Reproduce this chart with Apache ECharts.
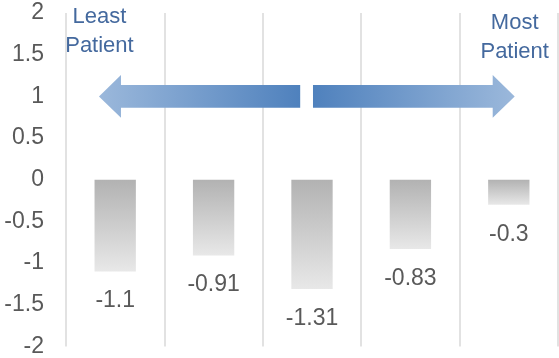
<!DOCTYPE html>
<html>
<head>
<meta charset="utf-8">
<script src="https://cdn.jsdelivr.net/npm/echarts@6/dist/echarts.min.js"></script>
<style>
  html, body { margin: 0; padding: 0; background: #fff; }
  #chart { width: 559px; height: 358px; }
</style>
</head>
<body>
<div id="chart"></div>
<script>
// Patience scores per group, left (least) to right (most)
const categories = ['A', 'B', 'C', 'D', 'E'];
const scores = [-1.1, -0.91, -1.31, -0.83, -0.3];

// Value-axis range and step
const yMin = -2;
const yMax = 2;
const yStep = 0.5;

// Direction arrows, in band units along the chart width (0..5) at value y
const arrows = [
  { from: 2.38, to: 0.335, y: 1 },   // pointing left
  { from: 2.51, to: 4.56, y: 1 }     // pointing right
];

// End captions
const captions = [
  { text: 'Least\nPatient', x: 0.34, y: 1.78 },
  { text: 'Most\nPatient', x: 4.56, y: 1.71 }
];

const font = 'Liberation Sans';
const chart = echarts.init(document.getElementById('chart'), null, { renderer: 'canvas' });

function arrowItem(params, api) {
  const a = arrows[params.dataIndex];
  const start = api.coord([a.from, a.y]);
  const tip = api.coord([a.to, a.y]);
  const unit = api.size([0, 1])[1];
  const halfShaft = unit * 0.137;
  const halfHead = unit * 0.255;
  const dir = tip[0] > start[0] ? 1 : -1;
  const headLen = 22;
  const baseX = tip[0] - dir * headLen;
  const cy = tip[1];
  const points = [
    [start[0], cy - halfShaft],
    [baseX, cy - halfShaft],
    [baseX, cy - halfHead],
    [tip[0], cy],
    [baseX, cy + halfHead],
    [baseX, cy + halfShaft],
    [start[0], cy + halfShaft]
  ];
  const dark = '#4f81bd';
  const light = '#9bb8db';
  return {
    type: 'polygon',
    shape: { points: points },
    style: {
      fill: new echarts.graphic.LinearGradient(0, 0, 1, 0, [
        { offset: 0, color: dir > 0 ? dark : light },
        { offset: 1, color: dir > 0 ? light : dark }
      ])
    }
  };
}

function captionItem(params, api) {
  const c = captions[params.dataIndex];
  const p = api.coord([c.x, c.y]);
  return {
    type: 'text',
    x: p[0],
    y: p[1],
    style: {
      text: c.text,
      align: 'center',
      verticalAlign: 'middle',
      fill: '#44699e',
      fontFamily: font,
      fontSize: 22,
      lineHeight: 29
    }
  };
}

chart.setOption({
  animation: false,
  backgroundColor: '#ffffff',
  grid: { left: 66, right: 1, top: 13, bottom: 9, containLabel: false },
  xAxis: [
    {
      type: 'category',
      data: categories,
      axisLine: { show: false },
      axisTick: { show: false },
      axisLabel: { show: false },
      splitLine: { show: false }
    },
    {
      type: 'value',
      min: 0,
      max: categories.length,
      interval: 1,
      show: true,
      axisLine: { show: false },
      axisTick: { show: false },
      axisLabel: { show: false },
      splitLine: { show: true, lineStyle: { color: '#d9d9d9', width: 1.5 } }
    }
  ],
  yAxis: {
    type: 'value',
    min: yMin,
    max: yMax,
    interval: yStep,
    axisLine: { show: false },
    axisTick: { show: false },
    splitLine: { show: false },
    axisLabel: {
      margin: 22,
      color: '#595959',
      fontFamily: font,
      fontSize: 23
    }
  },
  series: [
    {
      type: 'bar',
      data: scores,
      barWidth: '42%',
      itemStyle: {
        color: new echarts.graphic.LinearGradient(0, 0, 0, 1, [
          { offset: 0, color: '#b2b2b2' },
          { offset: 1, color: '#e8e8e8' }
        ])
      },
      label: {
        show: true,
        position: 'bottom',
        distance: 18,
        color: '#595959',
        fontFamily: font,
        fontSize: 23
      }
    },
    {
      type: 'custom',
      xAxisIndex: 1,
      renderItem: arrowItem,
      data: arrows.map(a => [a.from, a.y]),
      silent: true,
      z: 5
    },
    {
      type: 'custom',
      xAxisIndex: 1,
      renderItem: captionItem,
      data: captions.map(c => [c.x, c.y]),
      silent: true,
      z: 5
    }
  ]
});
</script>
</body>
</html>
